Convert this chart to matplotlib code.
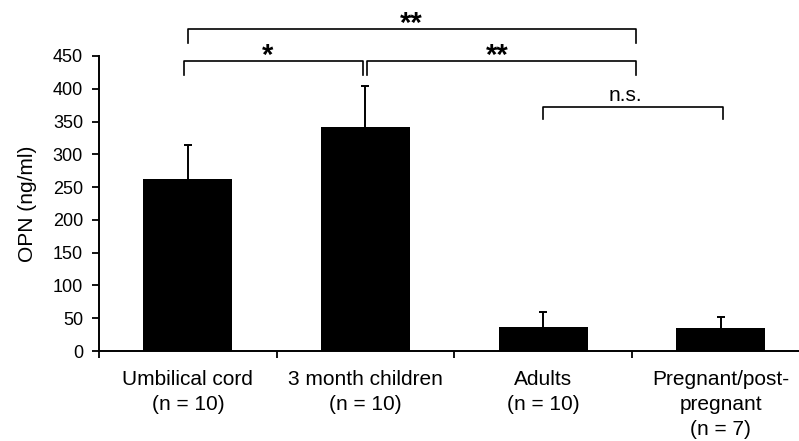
import matplotlib
matplotlib.use("Agg")
import matplotlib.pyplot as plt

plt.rcParams['font.family'] = ['Liberation Sans', 'DejaVu Sans']

categories = ["Umbilical cord\n(n = 10)", "3 month children\n(n = 10)",
              "Adults\n(n = 10)", "Pregnant/post-\npregnant\n(n = 7)"]
means = [263, 342, 36, 35]
errors = [51, 62, 24, 17]
y_ticks = [0, 50, 100, 150, 200, 250, 300, 350, 400, 450]

# significance brackets: (x_start, x_end, y_line, y_leg_bottom, label, label_x, label_y)
brackets = [
    (0.0, 2.52, 491, 470, "**", 1.26, 486.5),
    (-0.02, 0.985, 442, 421, "*", 0.45, 437.5),
    (1.007, 2.52, 442, 421, "**", 1.74, 437.5),
    (2.0, 3.01, 372, 354, "n.s.", 2.46, 381),
]

fig = plt.figure(figsize=(7.99, 4.41), dpi=100)
ax = fig.add_axes([99/799, 1 - 351/441, 700/799, (351 - 56)/441])

x = list(range(len(categories)))
ax.bar(x, means, width=0.5, color='black', zorder=2)
eb = ax.errorbar(x, means, yerr=[[0]*len(errors), errors], fmt='none',
                 ecolor='black', elinewidth=1.4, capsize=3.2, capthick=1.4, zorder=1)
# hide the (zero-length) lower caps
eb[1][0].set_visible(False)

ax.set_xlim(-0.5, 3.44)
ax.set_ylim(0, 450)
ax.set_yticks(y_ticks)
ax.tick_params(axis='y', labelsize=13, length=5, width=1.3, direction='out', pad=6.5)
ax.set_ylabel("OPN (ng/ml)", fontsize=15, labelpad=11)

ax.set_xticks([-0.5, 0.5, 1.5, 2.5])
ax.set_xticklabels([])
ax.tick_params(axis='x', length=5, width=1.3, direction='out')
for xi, lab in zip(x, categories):
    ax.text(xi, -0.063, lab, transform=ax.get_xaxis_transform(), ha='center', va='top',
            fontsize=15, linespacing=1.42)

for s in ['top', 'right']:
    ax.spines[s].set_visible(False)
for s in ['left', 'bottom']:
    ax.spines[s].set_linewidth(1.4)

for x0, x1, yl, yb, lab, lx, ly in brackets:
    ax.plot([x0, x0, x1, x1], [yb, yl, yl, yb], color='black', lw=1.2,
            clip_on=False, zorder=3)
    star = '*' in lab
    ax.text(lx, ly, lab, ha='center', va='baseline',
            fontsize=21 if star else 15, fontweight='bold' if star else 'normal',
            clip_on=False)

fig.savefig("out.png", dpi=100)
